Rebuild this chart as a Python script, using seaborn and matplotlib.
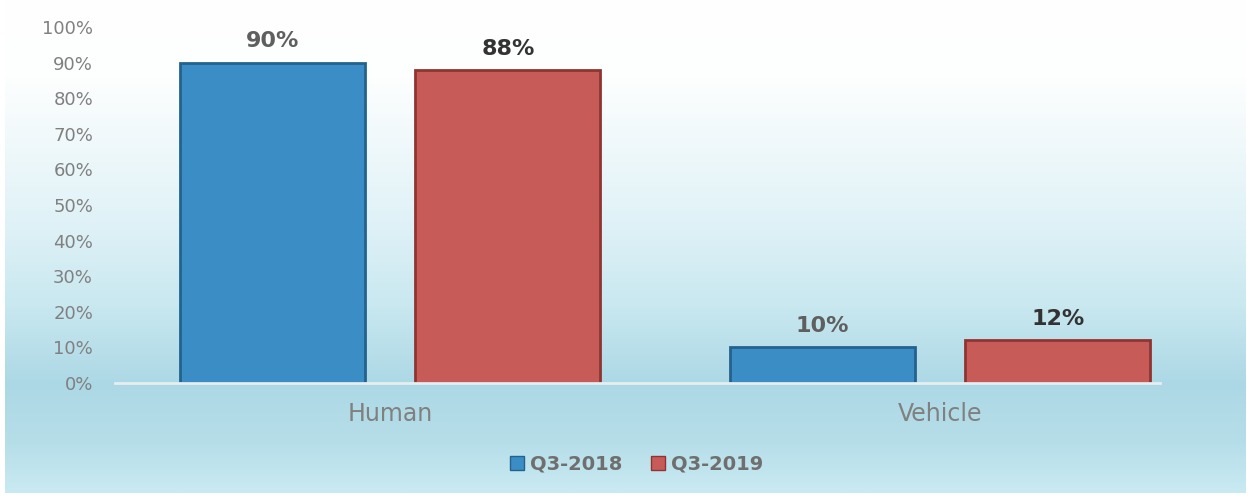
import numpy as np
import pandas as pd
import matplotlib
matplotlib.use("Agg")
import matplotlib.pyplot as plt
from matplotlib.colors import LinearSegmentedColormap
from matplotlib.patches import Patch
import seaborn as sns

categories = ["Human", "Vehicle"]
series = ["Q3-2018", "Q3-2019"]
q3_2018 = [90, 10]
q3_2019 = [88, 12]
yticks = [0, 10, 20, 30, 40, 50, 60, 70, 80, 90, 100]

df = pd.DataFrame({
    "category": categories * 2,
    "series": [series[0]] * 2 + [series[1]] * 2,
    "value": q3_2018 + q3_2019,
})

sns.set_theme(style="white")
plt.rcParams['font.family'] = ['DejaVu Sans']

fig = plt.figure(figsize=(12.53, 4.99), dpi=100)
fig.patch.set_facecolor("white")

# background gradient
bg = fig.add_axes([0.004, 0.012, 0.99, 0.988], zorder=-10)
cmap = LinearSegmentedColormap.from_list(
    "bg",
    [(0.0, "#ffffff"), (0.16, "#fdfefe"), (0.45, "#e0f2f7"), (0.62, "#c9e8f0"),
     (0.78, "#acd8e5"), (0.9, "#b6dee9"), (1.0, "#c9eaf2")])
grad = np.linspace(0, 1, 256).reshape(-1, 1)
bg.imshow(grad, aspect="auto", cmap=cmap, extent=[0, 1, 0, 1], origin="upper")
bg.set_axis_off()

ax = fig.add_axes([0.092, 0.2325, 0.834, 0.7135])
ax.set_facecolor("none")

palette = {"Q3-2018": "#3b8dc5", "Q3-2019": "#c65b58"}
edges = {"Q3-2018": "#24628e", "Q3-2019": "#8e3532"}
sns.barplot(data=df, x="category", y="value", hue="series", palette=palette,
            width=0.855, gap=0.213, ax=ax, legend=False, saturation=1)

label_colors = {"Q3-2018": "#5f5f5f", "Q3-2019": "#333333"}
for cont, s in zip(ax.containers, series):
    for bar in cont:
        bar.set_edgecolor(edges[s])
        bar.set_linewidth(2)
    ax.bar_label(cont, labels=[f"{v:.0f}%" for v in cont.datavalues],
                 padding=8, fontsize=16, fontweight="bold", color=label_colors[s])

ax.set_ylim(0, 100)
ax.set_xlim(-0.5, 1.4)
ax.set_yticks(yticks)
ax.set_yticklabels([f"{t}%" for t in yticks], fontsize=13, color="#808080")
ax.tick_params(axis="y", pad=16, length=0)
ax.tick_params(axis="x", pad=14, length=0)
ax.set_xticks(range(len(categories)))
ax.set_xticklabels(categories, fontsize=17, color="#808080")
ax.set_xlabel("")
ax.set_ylabel("")
for sp in ["top", "right", "left"]:
    ax.spines[sp].set_visible(False)
ax.spines["bottom"].set_color("#e6eef0")
ax.spines["bottom"].set_linewidth(2)

handles = [Patch(facecolor=palette[s], edgecolor=edges[s], label=s) for s in series]
leg = fig.legend(handles=handles, loc="center", bbox_to_anchor=(0.508, 0.07), ncol=2,
                 frameon=False, handlelength=0.7, handleheight=0.7, handletextpad=0.3,
                 columnspacing=1.5, prop={"weight": "bold", "size": 14})
for t in leg.get_texts():
    t.set_color("#6f6f6f")

fig.savefig("out.png", dpi=100)
